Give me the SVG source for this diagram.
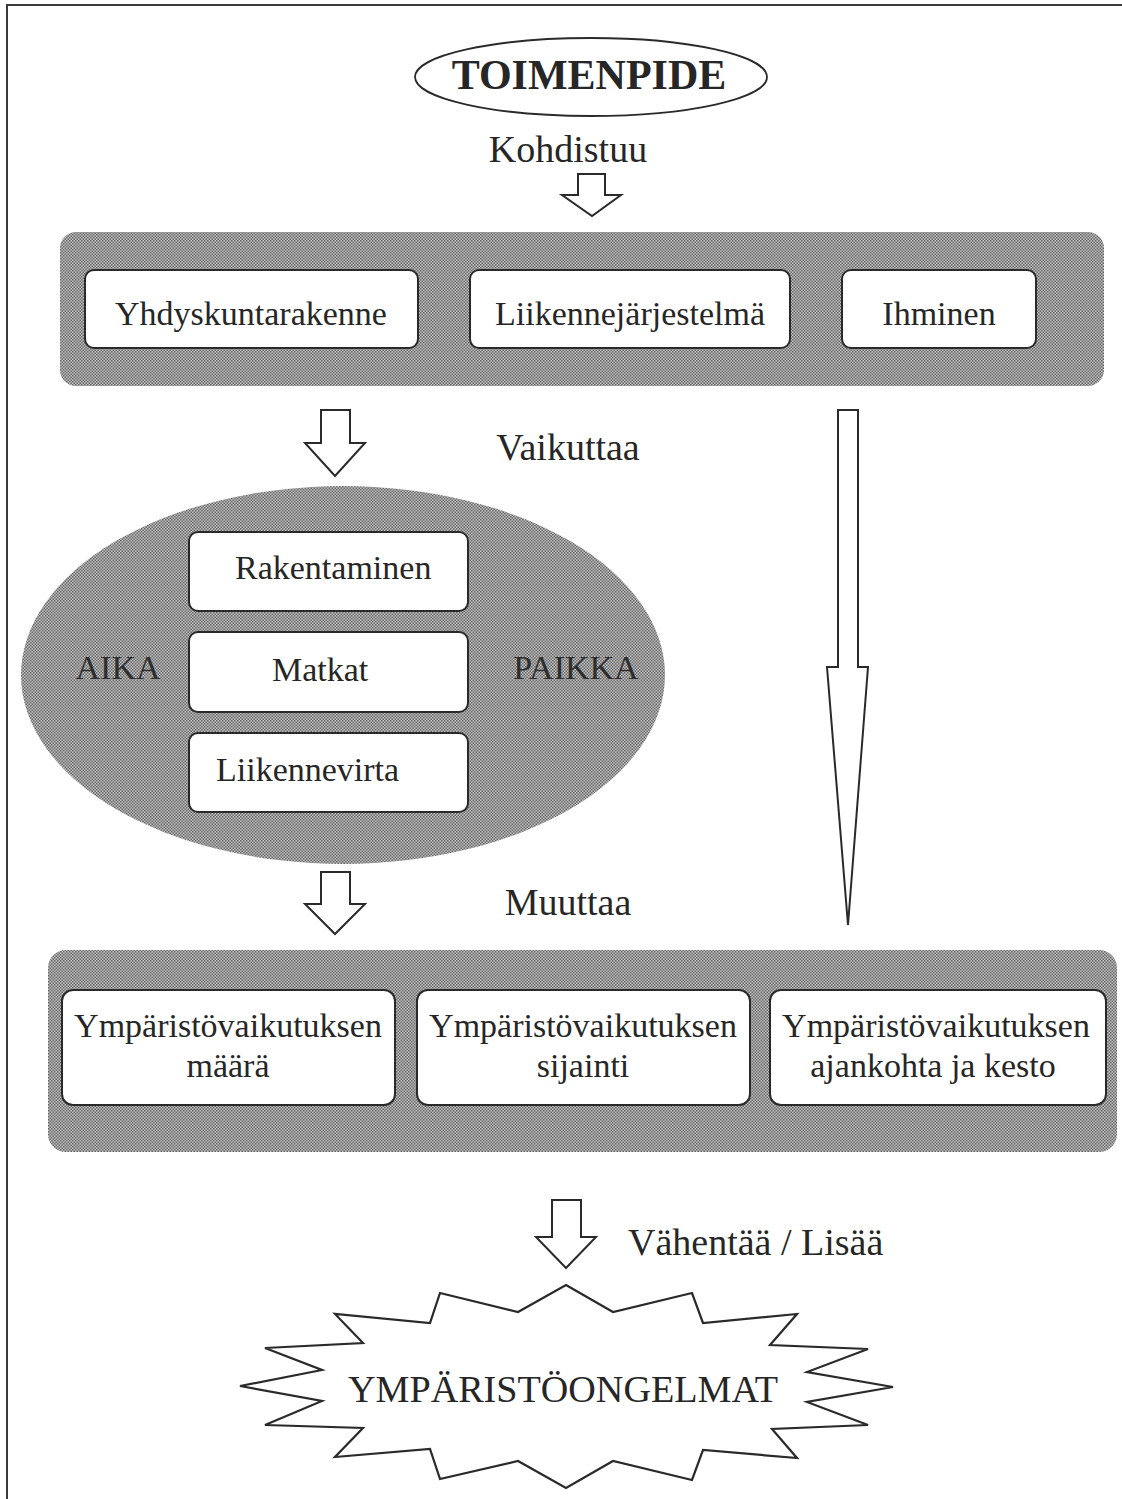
<svg xmlns="http://www.w3.org/2000/svg" width="1122" height="1499" viewBox="0 0 1122 1499">
<style>
  .t { font-family: "Liberation Serif", "Times New Roman", serif; fill: #262626; }
  .lbl { font-size: 38px; }
  .box { font-size: 34px; text-anchor: middle; }
  .boxl { font-size: 34px; text-anchor: start; }
  .wb { fill: #ffffff; stroke: #2a2a2a; stroke-width: 2; }
  .band { fill: url(#dots); }
  .arr { fill: #ffffff; stroke: #2a2a2a; stroke-width: 2; stroke-linejoin: miter; }
  .side { font-size: 34px; fill: #2e2e2e; text-anchor: middle; }
</style>
<defs>
  <pattern id="dots" width="3" height="3" patternUnits="userSpaceOnUse">
    <rect width="3" height="3" fill="#c2c2c2"/>
    <rect x="0" y="0" width="1.5" height="1.5" fill="#666666"/>
    <rect x="1.5" y="1.5" width="1.5" height="1.5" fill="#666666"/>
  </pattern>
</defs>

<rect width="1122" height="1499" fill="#ffffff"/>
<path d="M7,1499 V5 H1122" fill="none" stroke="#3a3a3a" stroke-width="2"/>

<g id="toimenpide">
  <ellipse cx="591" cy="77" rx="176" ry="39" fill="#ffffff" stroke="#2a2a2a" stroke-width="1.8"/>
  <text class="t" x="589" y="89" font-size="42" font-weight="bold" text-anchor="middle">TOIMENPIDE</text>
</g>

<g id="label-kohdistuu">
  <text class="t lbl" x="568" y="162" text-anchor="middle">Kohdistuu</text>
</g>

<g id="band-top">
  <rect class="band" x="60" y="232" width="1044" height="154" rx="16"/>
  <g id="yhdyskuntarakenne">
    <rect class="wb" x="85" y="270" width="333" height="78" rx="9"/>
    <text class="t box" x="251" y="325">Yhdyskuntarakenne</text>
  </g>
  <g id="liikennejarjestelma">
    <rect class="wb" x="470" y="270" width="320" height="78" rx="9"/>
    <text class="t box" x="630" y="325">Liikennejärjestelmä</text>
  </g>
  <g id="ihminen">
    <rect class="wb" x="842" y="270" width="194" height="78" rx="9"/>
    <text class="t box" x="939" y="325">Ihminen</text>
  </g>
</g>

<g id="label-vaikuttaa">
  <text class="t lbl" x="568" y="460" text-anchor="middle">Vaikuttaa</text>
</g>

<g id="ellipse-group">
  <ellipse class="band" cx="343" cy="675" rx="322" ry="189"/>
  <text class="t side" x="118" y="679">AIKA</text>
  <text class="t side" x="576" y="679">PAIKKA</text>
  <g id="rakentaminen">
    <rect class="wb" x="189" y="532" width="279" height="79" rx="9"/>
    <text class="t boxl" x="235" y="579">Rakentaminen</text>
  </g>
  <g id="matkat">
    <rect class="wb" x="189" y="632" width="279" height="80" rx="9"/>
    <text class="t boxl" x="272" y="681">Matkat</text>
  </g>
  <g id="liikennevirta">
    <rect class="wb" x="189" y="733" width="279" height="79" rx="9"/>
    <text class="t boxl" x="216" y="781">Liikennevirta</text>
  </g>
</g>

<g id="label-muuttaa">
  <text class="t lbl" x="568" y="915" text-anchor="middle">Muuttaa</text>
</g>

<g id="band-bottom">
  <rect class="band" x="48" y="950" width="1069" height="202" rx="18"/>
  <g id="maara">
    <rect class="wb" x="62" y="990" width="333" height="115" rx="11"/>
    <text class="t box" x="228" y="1037">Ympäristövaikutuksen</text>
    <text class="t box" x="228" y="1077">määrä</text>
  </g>
  <g id="sijainti">
    <rect class="wb" x="417" y="990" width="333" height="115" rx="11"/>
    <text class="t box" x="583" y="1037">Ympäristövaikutuksen</text>
    <text class="t box" x="583" y="1077">sijainti</text>
  </g>
  <g id="ajankohta">
    <rect class="wb" x="770" y="990" width="336" height="115" rx="11"/>
    <text class="t box" x="936" y="1037">Ympäristövaikutuksen</text>
    <text class="t box" x="933" y="1077">ajankohta ja kesto</text>
  </g>
</g>

<g id="label-vahentaa">
  <text class="t lbl" x="628" y="1255">Vähentää / Lisää</text>
</g>

<g id="ymparistoongelmat">
  <polygon points="566,1285 613,1312 692,1293 703,1323 797,1314 770,1345 868,1349 807,1372 893,1387 807,1402 868,1425 772,1429 797,1458 703,1450 692,1480 613,1461 566,1488 518,1461 440,1479 430,1449 335,1457 363,1428 265,1425 322,1401 240,1386 322,1370 265,1348 363,1343 335,1314 430,1323 440,1293 518,1312" fill="#ffffff" stroke="#2a2a2a" stroke-width="2.2" stroke-linejoin="miter"/>
  <text class="t" x="348" y="1402" font-size="37" textLength="430" lengthAdjust="spacingAndGlyphs">YMPÄRISTÖONGELMAT</text>
</g>

<g id="connectors">
  <path class="arr" d="M578,174 H605 V195 H621 L592,216 L562,195 H578 Z"/>
  <path class="arr" d="M321,410 H350 V443 H365 L335,476 L305,443 H321 Z"/>
  <path class="arr" d="M321,872 H350 V904 H365 L335,934 L305,904 H321 Z"/>
  <path class="arr" d="M838,410 H858 V667 H868 L848,925 L827,667 H838 Z"/>
  <path class="arr" d="M552,1200 H581 V1237 H596 L566,1268 L536,1237 H552 Z"/>
</g>
</svg>
